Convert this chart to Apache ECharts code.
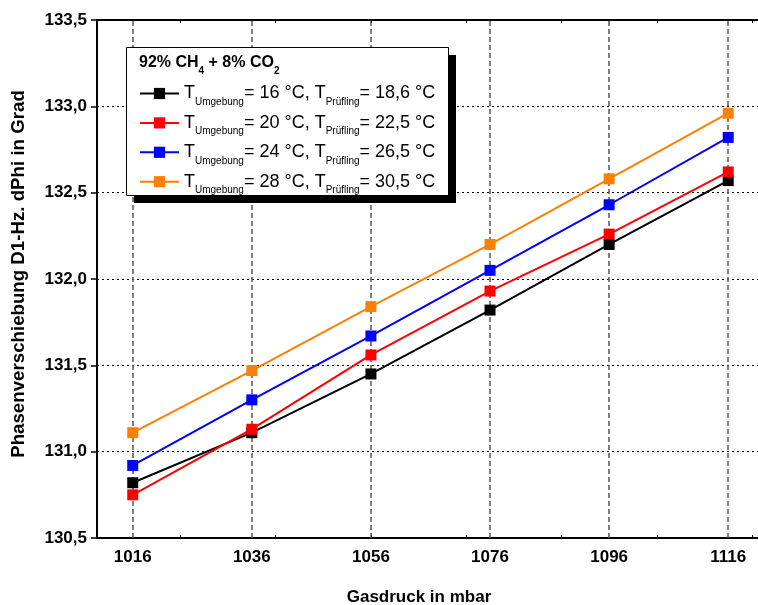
<!DOCTYPE html>
<html>
<head>
<meta charset="utf-8">
<script src="https://cdn.jsdelivr.net/npm/echarts@6/dist/echarts.min.js"></script>
<style>html,body{margin:0;padding:0;background:#fff}#c{width:758px;height:605px}</style>
</head>
<body>
<div id="c"></div>
<script>
// ---- data ----
const pressures = [1016, 1036, 1056, 1076, 1096, 1116];
const xTickValues = [1024, 1040, 1056, 1072, 1088, 1104, 1120];
const tUmgebung = ['16', '20', '24', '28'];
const tPruefling = ['18,6', '22,5', '26,5', '30,5'];
const seriesColors = ['#000000', '#ff0000', '#0000ff', '#ff8000'];
const values16 = [130.82, 131.11, 131.45, 131.82, 132.20, 132.57];
const values20 = [130.75, 131.13, 131.56, 131.93, 132.26, 132.62];
const values24 = [130.92, 131.30, 131.67, 132.05, 132.43, 132.82];
const values28 = [131.11, 131.47, 131.84, 132.20, 132.58, 132.96];
const allValues = [values16, values20, values24, values28];
const yTitle = 'Phasenverschiebung D1-Hz. dPhi in Grad';
const xTitle = 'Gasdruck in mbar';

const FONT = '"Liberation Sans", Arial, sans-serif';
const names = tUmgebung.map((t, i) => 'T_Umgebung = ' + t + ' °C, T_Prüfling = ' + tPruefling[i] + ' °C');

const series = allValues.map((vals, i) => ({
  name: names[i],
  type: 'line',
  data: pressures.map((p, j) => [p, vals[j]]),
  symbol: 'rect',
  symbolSize: 11,
  itemStyle: { color: seriesColors[i] },
  lineStyle: { color: seriesColors[i], width: 2 },
  z: 3
}));
series[0].markLine = {
  silent: true,
  symbol: 'none',
  label: { show: false },
  lineStyle: { color: '#555', type: [5, 3], width: 1.5 },
  data: pressures.map(p => ({ xAxis: p })),
  z: 1
};

const chart = echarts.init(document.getElementById('c'), null, { renderer: 'canvas' });
chart.setOption({
  animation: false,
  backgroundColor: '#fff',
  textStyle: { fontFamily: FONT },
  grid: { left: 97, top: 20, right: 0, bottom: 67 },
  xAxis: [{
    type: 'value', position: 'bottom', min: 1010, max: 1121,
    axisLine: { show: true, lineStyle: { color: '#000', width: 2 } },
    axisTick: { show: true, inside: true, length: 3, customValues: xTickValues, lineStyle: { color: '#000', width: 1 } },
    axisLabel: { customValues: pressures, margin: 11, color: '#000', fontSize: 17, fontWeight: 'bold', fontFamily: FONT,
      formatter: v => String(v) },
    splitLine: { show: false }
  }, {
    type: 'value', position: 'top', min: 1010, max: 1121,
    axisLine: { show: true, lineStyle: { color: '#000', width: 2 } },
    axisTick: { show: true, inside: true, length: 3, customValues: xTickValues, lineStyle: { color: '#000', width: 1 } },
    axisLabel: { show: false },
    splitLine: { show: false }
  }],
  yAxis: {
    type: 'value', min: 130.5, max: 133.5, interval: 0.5,
    axisLine: { show: true, lineStyle: { color: '#000', width: 2 } },
    axisTick: { show: true, inside: false, length: 6, lineStyle: { color: '#000', width: 1.5 } },
    axisLabel: {
      margin: 10, color: '#000', fontSize: 17, fontWeight: 'bold', fontFamily: FONT,
      formatter: v => v.toFixed(1).replace('.', ',')
    },
    splitLine: { show: true, lineStyle: { color: '#000', type: [2, 3], width: 1 } }
  },
  legend: {
    orient: 'vertical', left: 139, top: 80, padding: 0, itemGap: 2.4,
    itemWidth: 39, itemHeight: 14, itemTextGap: 14, z: 100,
    data: names,
    formatter: name => {
      const i = names.indexOf(name);
      return '{m|T}{s|Umgebung}{m|= ' + tUmgebung[i] + ' °C, T}{s|Prüfling}{m|= ' + tPruefling[i] + ' °C}';
    },
    textStyle: {
      fontFamily: FONT, color: '#000',
      rich: {
        m: { fontSize: 18, lineHeight: 27, verticalAlign: 'middle', fontFamily: FONT, color: '#000' },
        s: { fontSize: 10, lineHeight: 27, verticalAlign: 'middle', padding: [17, 0, 0, 0], fontFamily: FONT, color: '#000' }
      }
    }
  },
  graphic: [
    { type: 'rect', z: 50, shape: { x: 134, y: 55, width: 322, height: 148 }, style: { fill: '#000' } },
    { type: 'rect', z: 51, shape: { x: 126.5, y: 47.5, width: 322, height: 148 }, style: { fill: '#fff', stroke: '#000', lineWidth: 1 } },
    {
      type: 'text', z: 60, x: 139, y: 62.5,
      style: {
        text: '{b|92% CH}{s|4}{b| + 8% CO}{s|2}',
        verticalAlign: 'middle', align: 'left',
        rich: {
          b: { fontSize: 16, fontWeight: 'bold', lineHeight: 28, verticalAlign: 'middle', fontFamily: FONT, fill: '#000' },
          s: { fontSize: 10, fontWeight: 'bold', lineHeight: 28, verticalAlign: 'middle', padding: [18, 0, 0, 0], fontFamily: FONT, fill: '#000' }
        }
      }
    },
    {
      type: 'text', z: 60, x: 19, y: 274, rotation: Math.PI / 2,
      style: { text: yTitle, font: 'bold 18.7px ' + FONT, fill: '#000', align: 'center', verticalAlign: 'middle' }
    },
    {
      type: 'text', z: 60, x: 419, y: 597,
      style: { text: xTitle, font: 'bold 17px ' + FONT, fill: '#000', align: 'center', verticalAlign: 'middle' }
    }
  ],
  series: series
});
</script>
</body>
</html>
